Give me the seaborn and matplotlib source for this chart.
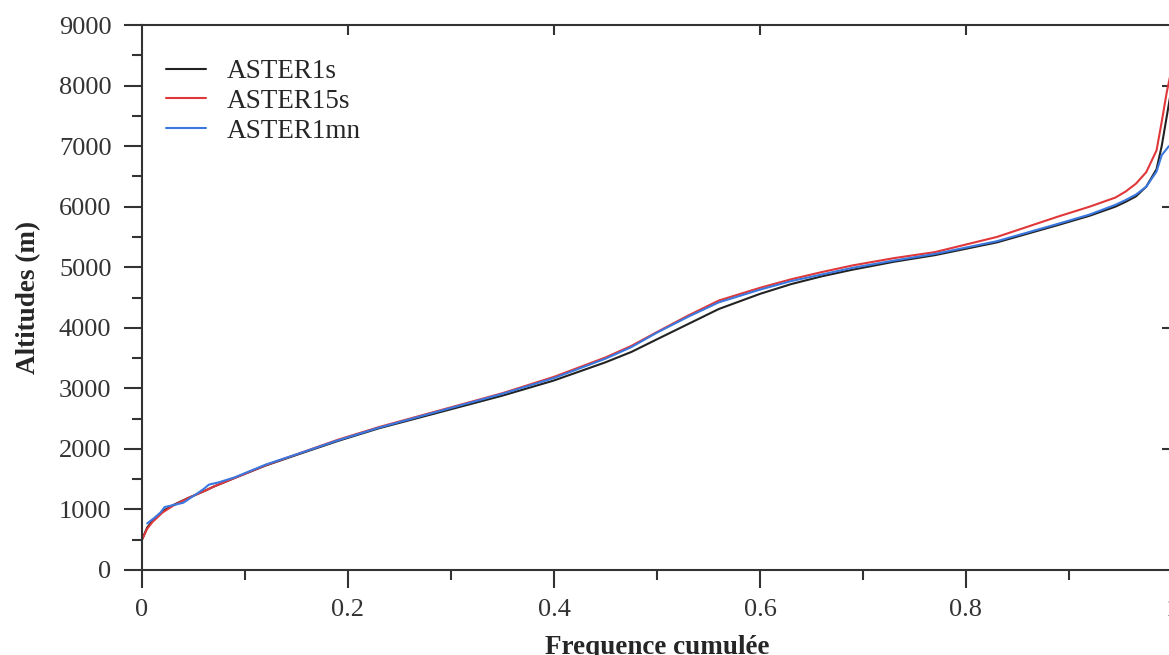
import numpy as np
import pandas as pd
import matplotlib
matplotlib.use("Agg")
import matplotlib.pyplot as plt
import matplotlib.ticker as mticker
import seaborn as sns

# ── Data ────────────────────────────────────────────────────────────────────
freq = [0, 0.005, 0.01, 0.02, 0.03, 0.045, 0.06, 0.07, 0.09, 0.12, 0.15, 0.19,
        0.23, 0.29, 0.35, 0.40, 0.45, 0.475, 0.50, 0.53, 0.56, 0.60, 0.63, 0.66,
        0.69, 0.73, 0.77, 0.83, 0.89, 0.92, 0.945, 0.955, 0.965, 0.975, 0.985,
        0.99, 0.995, 1.0]
alt_1s = [500, 700, 810, 970, 1070, 1190, 1300, 1380, 1520, 1725, 1900, 2130,
          2340, 2610, 2880, 3130, 3430, 3600, 3810, 4060, 4310, 4560, 4720, 4850,
          4960, 5090, 5200, 5410, 5700, 5850, 6000, 6080, 6170, 6330, 6620,
          7000, 7500, 8000]
alt_15s = [500, 680, 790, 950, 1060, 1190, 1300, 1380, 1520, 1730, 1910, 2150,
           2360, 2640, 2920, 3190, 3510, 3700, 3930, 4200, 4450, 4660, 4800, 4920,
           5030, 5150, 5250, 5500, 5840, 6000, 6150, 6250, 6380, 6570, 6930,
           7400, 7900, 8300]
freq_1mn = [0.005, 0.012, 0.018, 0.022, 0.03, 0.04, 0.055, 0.06, 0.065, 0.075,
            0.09, 0.12, 0.15, 0.19, 0.23, 0.29, 0.35, 0.40, 0.45, 0.475, 0.50,
            0.53, 0.56, 0.60, 0.63, 0.66, 0.69, 0.73, 0.77, 0.83, 0.89, 0.92,
            0.945, 0.955, 0.965, 0.975, 0.985, 0.99, 0.997]
alt_1mn = [770, 860, 950, 1040, 1070, 1110, 1280, 1340, 1410, 1450,
           1530, 1740, 1910, 2140, 2350, 2630, 2910, 3170, 3490, 3680, 3920,
           4180, 4420, 4630, 4770, 4880, 4990, 5110, 5220, 5430, 5720, 5870,
           6030, 6110, 6200, 6330, 6580, 6850, 7000]

series = ["ASTER1s", "ASTER15s", "ASTER1mn"]
colors = ["#222222", "#e0383a", "#3a78e0"]

df = pd.concat([
    pd.DataFrame({"freq": freq, "alt": alt_1s, "serie": series[0]}),
    pd.DataFrame({"freq": freq, "alt": alt_15s, "serie": series[1]}),
    pd.DataFrame({"freq": freq_1mn, "alt": alt_1mn, "serie": series[2]}),
], ignore_index=True)

# ── Style ───────────────────────────────────────────────────────────────────
sns.set_style("ticks")
plt.rcParams['font.family'] = ['Liberation Serif', 'DejaVu Serif']
GREY = '#333333'

fig = plt.figure(figsize=(11.69, 6.55), dpi=100)
ax = fig.add_axes([142 / 1169, 85 / 655, 1030 / 1169, 545 / 655])

sns.lineplot(data=df, x="freq", y="alt", hue="serie", hue_order=series,
             palette=dict(zip(series, colors)), sort=False, estimator=None,
             linewidth=1.5, ax=ax)

ax.set_xlim(0, 1)
ax.set_ylim(0, 9000)
ax.xaxis.set_major_locator(mticker.MultipleLocator(0.2))
ax.xaxis.set_minor_locator(mticker.MultipleLocator(0.1))
ax.yaxis.set_major_locator(mticker.MultipleLocator(1000))
ax.yaxis.set_minor_locator(mticker.MultipleLocator(500))
ax.xaxis.set_major_formatter(mticker.FuncFormatter(lambda v, p: f"{v:g}"))

for s in ax.spines.values():
    s.set_color(GREY)
    s.set_linewidth(1.5)
ax.tick_params(which='major', direction='out', length=13, width=1.5,
               color=GREY, labelsize=19, labelcolor=GREY)
ax.tick_params(axis='x', which='major', pad=8)
ax.tick_params(axis='y', which='major', pad=9)
ax.tick_params(which='minor', direction='out', length=7.5, width=1.5, color=GREY)
ax.tick_params(top=False, right=False, which='both')

# inward ticks on top and right
top = ax.secondary_xaxis('top')
top.set_xticks(np.arange(0.2, 1.0, 0.2))
top.tick_params(direction='in', length=7, width=1.5, color=GREY, labeltop=False)
top.spines['top'].set_visible(False)
right = ax.secondary_yaxis('right')
right.set_yticks(np.arange(2000, 9000, 2000))
right.tick_params(direction='in', length=7, width=1.5, color=GREY, labelright=False)
right.spines['right'].set_visible(False)

ax.set_xlabel('Frequence cumulée', fontsize=19.5, fontweight='bold', labelpad=10)
ax.set_ylabel('Altitudes (m)', fontsize=19.5, fontweight='bold', labelpad=13)

leg = ax.legend(loc='upper left', bbox_to_anchor=(0.023, 0.937), frameon=False,
                fontsize=19.5, handlelength=1.5, handletextpad=0.75,
                labelspacing=0.17, borderpad=0, borderaxespad=0)
for line in leg.get_lines():
    line.set_linewidth(1.5)

fig.savefig('out.png', dpi=100)
